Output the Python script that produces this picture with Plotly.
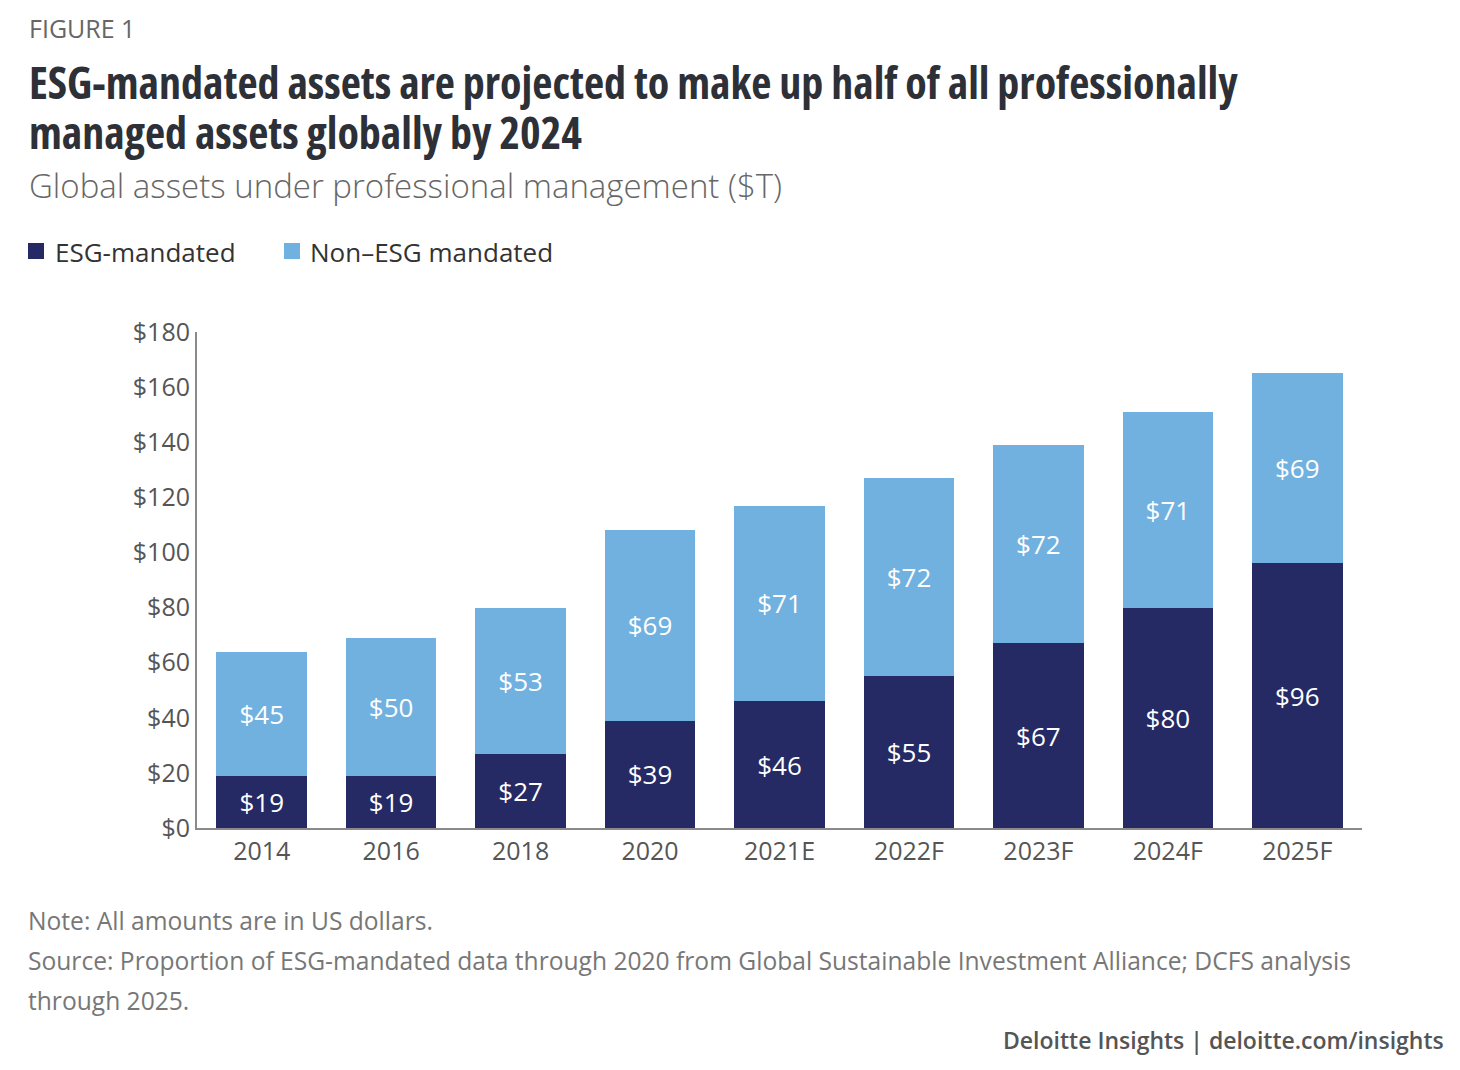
import plotly.graph_objects as go

# Data
years = ["2014", "2016", "2018", "2020", "2021E", "2022F", "2023F", "2024F", "2025F"]
esg_mandated = [19, 19, 27, 39, 46, 55, 67, 80, 96]
non_esg_mandated = [45, 50, 53, 69, 71, 72, 72, 71, 69]
series_names = ["ESG-mandated", "Non–ESG mandated"]
y_ticks = [0, 20, 40, 60, 80, 100, 120, 140, 160, 180]
y_tick_text = ["$" + str(v) for v in y_ticks]

navy = "#252a64"
light_blue = "#71b1e0"
body_font = "Open Sans"

# page puts the figure 8px in from the top-left corner
OFF = 8
W, H = 1460, 1070
L, T = 197 - OFF, 332 - OFF
R, B = W - (1362 - OFF), H - (828 - OFF)
plot_w = W - L - R
plot_h = H - T - B


def px(x):
    return (x - OFF - L) / plot_w


def py(y):
    return (H - B - (y - OFF)) / plot_h


def condensed(s):
    return '<span style="font-stretch:condensed">' + s + "</span>"


fig = go.Figure()
for vals, name, col in [(esg_mandated, series_names[0], navy),
                        (non_esg_mandated, series_names[1], light_blue)]:
    fig.add_trace(go.Bar(
        x=years, y=vals, name=name,
        marker=dict(color=col, line=dict(width=0)),
        text=["$" + str(v) for v in vals], textposition="inside",
        insidetextanchor="middle", texttemplate="%{text}",
        textfont=dict(color="white", size=26, family=body_font),
    ))

fig.update_layout(
    width=W, height=H,
    barmode="stack", bargap=0.30,
    margin=dict(l=L, r=R, t=T, b=B),
    plot_bgcolor="white", paper_bgcolor="white",
    font=dict(family=body_font, color="#555555"),
    showlegend=False,
    uniformtext=dict(minsize=10, mode="show"),
)

fig.update_yaxes(
    range=[0, 180], tickvals=y_ticks, ticktext=y_tick_text,
    showgrid=False, zeroline=False,
    showline=True, linecolor="#8a8a8a", linewidth=2,
    tickfont=dict(size=25, color="#555555"), ticklabelstandoff=0,
)
fig.update_xaxes(
    showgrid=False, showline=True, linecolor="#8a8a8a", linewidth=2,
    tickfont=dict(size=25, color="#555555"), ticklabelstandoff=0,
)

# Legend drawn by hand: square + label
for sx, tx, name, col in [(28, 55, series_names[0], navy), (284, 310, series_names[1], light_blue)]:
    fig.add_shape(type="rect", xref="paper", yref="paper",
                  x0=px(sx), x1=px(sx + 16), y0=py(243), y1=py(259),
                  fillcolor=col, line=dict(width=0))
    fig.add_annotation(x=px(tx - 2), y=py(252), xref="paper", yref="paper", text=name,
                       showarrow=False, xanchor="left", yanchor="middle",
                       font=dict(size=26, color="#333333", family=body_font))

# Header texts
fig.add_annotation(x=px(27), y=py(28), xref="paper", yref="paper", text="FIGURE 1",
                   showarrow=False, xanchor="left", yanchor="middle",
                   font=dict(size=25, color="#666666", family=body_font))
fig.add_annotation(x=px(27), y=py(82), xref="paper", yref="paper",
                   text=condensed("ESG-mandated assets are projected to make up half of all professionally"),
                   showarrow=False, xanchor="left", yanchor="middle",
                   font=dict(size=44, color="#2e3038", family=body_font, weight="bold"))
fig.add_annotation(x=px(27), y=py(132), xref="paper", yref="paper",
                   text=condensed("managed assets globally by 2024"),
                   showarrow=False, xanchor="left", yanchor="middle",
                   font=dict(size=44, color="#2e3038", family=body_font, weight="bold"))
fig.add_annotation(x=px(27), y=py(185), xref="paper", yref="paper",
                   text="Global assets under professional management ($T)",
                   showarrow=False, xanchor="left", yanchor="middle",
                   font=dict(size=33, color="#666666", family=body_font, weight=300))

# Footer texts
foot = dict(size=24.6, color="#777777", family=body_font)
fig.add_annotation(x=px(26), y=py(920), xref="paper", yref="paper",
                   text="Note: All amounts are in US dollars.",
                   showarrow=False, xanchor="left", yanchor="middle", font=foot)
fig.add_annotation(x=px(26), y=py(960), xref="paper", yref="paper",
                   text="Source: Proportion of ESG-mandated data through 2020 from Global Sustainable Investment Alliance; DCFS analysis",
                   showarrow=False, xanchor="left", yanchor="middle", font=foot)
fig.add_annotation(x=px(26), y=py(1000), xref="paper", yref="paper",
                   text="through 2025.",
                   showarrow=False, xanchor="left", yanchor="middle", font=foot)
fig.add_annotation(x=px(1446), y=py(1040), xref="paper", yref="paper",
                   text="Deloitte Insights | deloitte.com/insights",
                   showarrow=False, xanchor="right", yanchor="middle",
                   font=dict(size=23, color="#555555", family=body_font, weight=600))

fig.write_html("out.html")
